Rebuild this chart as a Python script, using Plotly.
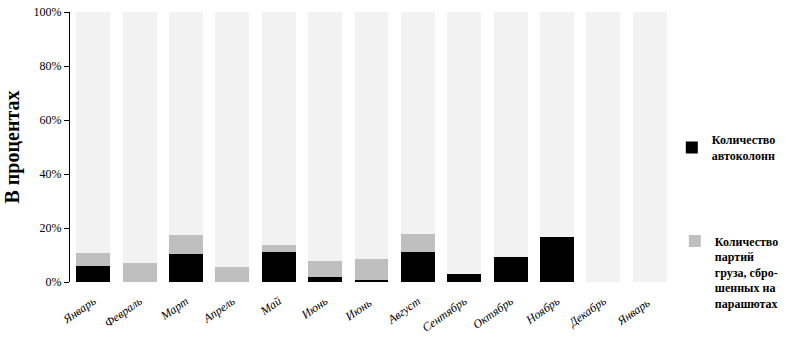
import plotly.graph_objects as go

months = ["Январь", "Февраль", "Март", "Апрель", "Май", "Июнь", "Июнь ", "Август",
          "Сентябрь", "Октябрь", "Ноябрь", "Декабрь", "Январь "]
convoys = [6.1, 0, 10.2, 0, 11.0, 1.7, 0.9, 11.2, 3.0, 9.1, 16.5, 0, 0]
airdrops = [4.6, 7.2, 7.3, 5.6, 2.6, 6.2, 7.7, 6.4, 0, 0, 0, 0, 0]
rest = [100 - a - b for a, b in zip(convoys, airdrops)]

serif = "Times New Roman, Liberation Serif, serif"

fig = go.Figure()
fig.add_trace(go.Bar(x=months, y=convoys, name="Количество<br>автоколонн",
                     marker=dict(color="#000000", line=dict(width=0)), legend="legend"))
fig.add_trace(go.Bar(x=months, y=airdrops,
                     name="Количество<br>партий<br>груза, сбро-<br>шенных на<br>парашютах",
                     marker=dict(color="#bfbfbf", line=dict(width=0)), legend="legend2"))
fig.add_trace(go.Bar(x=months, y=rest, showlegend=False,
                     marker=dict(color="#f2f2f2", line=dict(width=0)), hoverinfo="skip"))

fig.update_layout(
    barmode="stack",
    bargap=0.27,
    width=794, height=341,
    margin=dict(l=70, r=121, t=12, b=59, autoexpand=False),
    paper_bgcolor="white", plot_bgcolor="white",
    font=dict(family=serif, color="#000000", size=12),
    legend=dict(x=0.998, y=0.58, xanchor="left", yanchor="top", valign="middle",
                font=dict(family=serif, size=12, weight="bold"),
                bgcolor="rgba(0,0,0,0)", itemwidth=30),
    legend2=dict(x=1.003, y=0.205, xanchor="left", yanchor="top", valign="top",
                 font=dict(family=serif, size=12, weight="bold"),
                 bgcolor="rgba(0,0,0,0)", itemwidth=30),
)
fig.update_yaxes(range=[0, 100], tickvals=[0, 20, 40, 60, 80, 100],
                 ticktext=["0%", "20%", "40%", "60%", "80%", "100%"],
                 showline=True, linecolor="black", linewidth=1,
                 ticks="outside", ticklen=5, tickcolor="black",
                 showgrid=False, zeroline=False, automargin=False,
                 tickfont=dict(family=serif, size=12),
                 title=dict(text="В процентах", font=dict(family=serif, size=20, weight="bold"), standoff=8))
fig.update_xaxes(showline=False, ticks="", tickangle=-35, ticklabelstandoff=9,
                 automargin=False,
                 tickfont=dict(family=serif, size=12, style="italic"))

fig.write_html("out.html")
